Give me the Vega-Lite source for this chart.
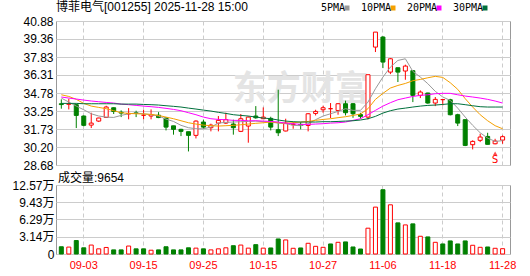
{
  "$schema": "https://vega.github.io/schema/vega-lite/v6.json",
  "background": "white",
  "padding": {"left": 11, "top": 0, "right": 5, "bottom": 3},
  "spacing": 20,
  "bounds": "flush",
  "config": {
    "font": "Liberation Sans, Noto Sans CJK SC",
    "view": {"stroke": "#999999", "strokeWidth": 1},
    "axis": {"labelFont": "Liberation Sans, Noto Sans CJK SC", "labelColor": "#000000", "labelFontSize": 12, "ticks": false, "domain": false, "gridColor": "#cccccc", "title": null, "labelOverlap": false}
  },
  "datasets": {
    "k": [
      {"d":"08-29","o":33.87,"h":34.24,"l":33.45,"c":33.80,"v":1.32,"5PMA":34.35,"10PMA":34.63,"20PMA":34.44,"30PMA":33.90},
      {"d":"09-01","o":33.82,"h":34.29,"l":33.39,"c":33.87,"v":1.26,"5PMA":34.01,"10PMA":34.49,"20PMA":34.35,"30PMA":33.90},
      {"d":"09-02","o":33.79,"h":33.87,"l":31.81,"c":32.88,"v":2.45,"5PMA":33.67,"10PMA":34.24,"20PMA":34.27,"30PMA":33.90},
      {"d":"09-03","o":32.83,"h":32.88,"l":31.95,"c":32.04,"v":1.13,"5PMA":33.36,"10PMA":33.90,"20PMA":34.18,"30PMA":33.87},
      {"d":"09-04","o":32.06,"h":33.11,"l":31.81,"c":32.23,"v":1.63,"5PMA":33.02,"10PMA":33.67,"20PMA":34.10,"30PMA":33.87},
      {"d":"09-05","o":32.40,"h":32.68,"l":32.32,"c":32.66,"v":0.94,"5PMA":32.83,"10PMA":33.56,"20PMA":34.04,"30PMA":33.87},
      {"d":"09-08","o":32.71,"h":33.70,"l":32.71,"c":33.59,"v":1.19,"5PMA":32.74,"10PMA":33.45,"20PMA":33.98,"30PMA":33.87},
      {"d":"09-09","o":33.53,"h":33.56,"l":33.00,"c":33.22,"v":0.75,"5PMA":32.71,"10PMA":33.28,"20PMA":33.93,"30PMA":33.87},
      {"d":"09-10","o":33.15,"h":33.31,"l":32.74,"c":33.08,"v":0.75,"5PMA":32.88,"10PMA":33.11,"20PMA":33.84,"30PMA":33.84},
      {"d":"09-11","o":33.00,"h":33.50,"l":32.55,"c":33.05,"v":1.45,"5PMA":33.02,"10PMA":33.05,"20PMA":33.79,"30PMA":33.84},
      {"d":"09-12","o":33.10,"h":33.28,"l":32.74,"c":33.05,"v":0.94,"5PMA":33.08,"10PMA":33.02,"20PMA":33.73,"30PMA":33.84},
      {"d":"09-15","o":32.90,"h":33.36,"l":32.55,"c":32.90,"v":0.94,"5PMA":33.02,"10PMA":33.00,"20PMA":33.67,"30PMA":33.81},
      {"d":"09-16","o":32.83,"h":33.39,"l":32.55,"c":32.95,"v":0.69,"5PMA":32.94,"10PMA":32.97,"20PMA":33.62,"30PMA":33.79},
      {"d":"09-17","o":32.90,"h":33.16,"l":32.65,"c":32.70,"v":0.75,"5PMA":32.83,"10PMA":32.88,"20PMA":33.56,"30PMA":33.76},
      {"d":"09-18","o":32.66,"h":32.71,"l":31.61,"c":31.89,"v":1.32,"5PMA":32.57,"10PMA":32.74,"20PMA":33.48,"30PMA":33.70},
      {"d":"09-19","o":32.00,"h":32.00,"l":31.25,"c":31.70,"v":0.75,"5PMA":32.37,"10PMA":32.60,"20PMA":33.39,"30PMA":33.65},
      {"d":"09-22","o":31.70,"h":31.75,"l":31.13,"c":31.53,"v":0.75,"5PMA":32.04,"10PMA":32.43,"20PMA":33.28,"30PMA":33.59},
      {"d":"09-23","o":31.50,"h":31.50,"l":29.83,"c":31.19,"v":1.13,"5PMA":31.84,"10PMA":32.26,"20PMA":33.11,"30PMA":33.50},
      {"d":"09-24","o":31.19,"h":32.46,"l":30.93,"c":32.40,"v":1.07,"5PMA":31.75,"10PMA":32.15,"20PMA":32.94,"30PMA":33.42},
      {"d":"09-25","o":32.32,"h":32.52,"l":31.75,"c":31.89,"v":0.94,"5PMA":31.75,"10PMA":32.06,"20PMA":32.74,"30PMA":33.33},
      {"d":"09-26","o":31.84,"h":32.18,"l":31.53,"c":32.06,"v":0.75,"5PMA":31.89,"10PMA":32.01,"20PMA":32.60,"30PMA":33.25},
      {"d":"09-29","o":32.23,"h":32.83,"l":31.53,"c":32.46,"v":0.94,"5PMA":32.23,"10PMA":31.98,"20PMA":32.54,"30PMA":33.14},
      {"d":"09-30","o":32.23,"h":33.11,"l":32.15,"c":32.52,"v":1.13,"5PMA":32.29,"10PMA":32.01,"20PMA":32.52,"30PMA":33.05},
      {"d":"10-09","o":32.15,"h":32.52,"l":31.25,"c":31.84,"v":1.51,"5PMA":32.32,"10PMA":32.04,"20PMA":32.46,"30PMA":32.94},
      {"d":"10-10","o":31.53,"h":33.00,"l":31.47,"c":32.60,"v":1.63,"5PMA":32.35,"10PMA":32.09,"20PMA":32.46,"30PMA":32.88},
      {"d":"10-13","o":31.98,"h":32.80,"l":30.57,"c":32.74,"v":1.07,"5PMA":32.37,"10PMA":32.15,"20PMA":32.43,"30PMA":32.83},
      {"d":"10-14","o":32.83,"h":33.67,"l":32.60,"c":32.68,"v":1.70,"5PMA":32.40,"10PMA":32.21,"20PMA":32.43,"30PMA":32.74},
      {"d":"10-15","o":32.60,"h":33.56,"l":32.60,"c":32.74,"v":1.07,"5PMA":32.35,"10PMA":32.26,"20PMA":32.40,"30PMA":32.66},
      {"d":"10-16","o":32.63,"h":32.77,"l":31.61,"c":31.89,"v":1.10,"5PMA":32.32,"10PMA":32.32,"20PMA":32.37,"30PMA":32.60},
      {"d":"10-17","o":31.67,"h":35.06,"l":31.13,"c":31.41,"v":2.74,"5PMA":32.23,"10PMA":32.26,"20PMA":32.32,"30PMA":32.49},
      {"d":"10-20","o":31.56,"h":32.60,"l":31.53,"c":32.23,"v":2.56,"5PMA":32.18,"10PMA":32.23,"20PMA":32.23,"30PMA":32.40},
      {"d":"10-21","o":32.10,"h":32.32,"l":31.75,"c":32.15,"v":1.04,"5PMA":32.04,"10PMA":32.26,"20PMA":32.18,"30PMA":32.35},
      {"d":"10-22","o":32.12,"h":32.32,"l":31.70,"c":32.03,"v":1.10,"5PMA":32.01,"10PMA":32.32,"20PMA":32.12,"30PMA":32.32},
      {"d":"10-23","o":32.03,"h":33.08,"l":31.53,"c":33.02,"v":1.95,"5PMA":32.18,"10PMA":32.37,"20PMA":32.12,"30PMA":32.32},
      {"d":"10-24","o":33.05,"h":33.36,"l":32.88,"c":33.22,"v":1.40,"5PMA":32.52,"10PMA":32.46,"20PMA":32.15,"30PMA":32.32},
      {"d":"10-27","o":33.36,"h":33.70,"l":33.11,"c":33.53,"v":1.22,"5PMA":32.83,"10PMA":32.54,"20PMA":32.18,"30PMA":32.35},
      {"d":"10-28","o":33.45,"h":33.93,"l":32.66,"c":33.45,"v":1.83,"5PMA":33.02,"10PMA":32.60,"20PMA":32.23,"30PMA":32.35},
      {"d":"10-29","o":33.30,"h":33.93,"l":32.94,"c":33.87,"v":2.13,"5PMA":33.22,"10PMA":32.69,"20PMA":32.26,"30PMA":32.37},
      {"d":"10-30","o":33.87,"h":34.13,"l":32.88,"c":33.11,"v":2.20,"5PMA":33.45,"10PMA":32.77,"20PMA":32.32,"30PMA":32.40},
      {"d":"10-31","o":33.87,"h":33.93,"l":32.68,"c":33.02,"v":1.28,"5PMA":33.31,"10PMA":32.88,"20PMA":32.46,"30PMA":32.43},
      {"d":"11-03","o":32.95,"h":33.10,"l":32.60,"c":32.80,"v":0.91,"5PMA":33.31,"10PMA":33.00,"20PMA":32.60,"30PMA":32.49},
      {"d":"11-04","o":32.74,"h":36.33,"l":32.54,"c":36.33,"v":4.70,"5PMA":34.01,"10PMA":33.45,"20PMA":32.94,"30PMA":32.60},
      {"d":"11-05","o":38.67,"h":39.94,"l":38.25,"c":39.94,"v":8.54,"5PMA":35.14,"10PMA":34.24,"20PMA":33.31,"30PMA":32.80},
      {"d":"11-06","o":39.52,"h":39.60,"l":36.89,"c":37.40,"v":11.71,"5PMA":36.13,"10PMA":34.75,"20PMA":33.67,"30PMA":33.08},
      {"d":"11-07","o":36.55,"h":37.74,"l":36.38,"c":37.68,"v":8.96,"5PMA":36.98,"10PMA":35.20,"20PMA":33.96,"30PMA":33.28},
      {"d":"11-10","o":36.92,"h":36.92,"l":35.71,"c":36.55,"v":5.67,"5PMA":37.54,"10PMA":35.42,"20PMA":34.21,"30PMA":33.42},
      {"d":"11-11","o":36.64,"h":37.18,"l":35.90,"c":37.06,"v":5.30,"5PMA":37.68,"10PMA":35.59,"20PMA":34.35,"30PMA":33.50},
      {"d":"11-12","o":36.67,"h":36.70,"l":34.01,"c":34.58,"v":5.49,"5PMA":36.61,"10PMA":35.82,"20PMA":34.49,"30PMA":33.59},
      {"d":"11-13","o":34.58,"h":35.00,"l":34.35,"c":34.86,"v":3.23,"5PMA":36.13,"10PMA":35.93,"20PMA":34.58,"30PMA":33.67},
      {"d":"11-14","o":34.78,"h":34.80,"l":33.87,"c":33.93,"v":3.11,"5PMA":35.57,"10PMA":36.07,"20PMA":34.63,"30PMA":33.73},
      {"d":"11-17","o":33.93,"h":34.44,"l":33.67,"c":34.24,"v":2.13,"5PMA":34.92,"10PMA":36.19,"20PMA":34.72,"30PMA":33.76},
      {"d":"11-18","o":34.22,"h":34.26,"l":33.73,"c":34.22,"v":1.83,"5PMA":34.44,"10PMA":36.10,"20PMA":34.75,"30PMA":33.81},
      {"d":"11-19","o":34.21,"h":34.29,"l":32.88,"c":32.94,"v":2.38,"5PMA":34.15,"10PMA":35.65,"20PMA":34.75,"30PMA":33.87},
      {"d":"11-20","o":32.94,"h":33.02,"l":31.98,"c":32.23,"v":1.83,"5PMA":33.50,"10PMA":35.09,"20PMA":34.63,"30PMA":33.87},
      {"d":"11-21","o":32.52,"h":32.52,"l":30.28,"c":30.34,"v":2.38,"5PMA":32.74,"10PMA":34.30,"20PMA":34.52,"30PMA":33.79},
      {"d":"11-24","o":30.40,"h":30.77,"l":30.00,"c":30.68,"v":1.59,"5PMA":32.04,"10PMA":33.59,"20PMA":34.44,"30PMA":33.70},
      {"d":"11-25","o":30.77,"h":31.33,"l":30.62,"c":31.05,"v":1.22,"5PMA":31.41,"10PMA":32.94,"20PMA":34.35,"30PMA":33.62},
      {"d":"11-26","o":31.10,"h":31.41,"l":30.43,"c":30.43,"v":1.28,"5PMA":30.96,"10PMA":32.43,"20PMA":34.24,"30PMA":33.59},
      {"d":"11-27","o":30.48,"h":30.90,"l":30.43,"c":30.71,"v":1.04,"5PMA":30.68,"10PMA":32.01,"20PMA":34.10,"30PMA":33.59},
      {"d":"11-28","o":30.79,"h":31.19,"l":30.48,"c":31.08,"v":0.9654,"5PMA":30.74,"10PMA":31.75,"20PMA":33.93,"30PMA":33.59}
    ]
  },
  "vconcat": [
    {
      "width": 454,
      "height": 144,
      "title": {"text": "博菲电气[001255] 2025-11-28 15:00", "anchor": "start", "frame": "group", "fontSize": 12, "fontWeight": "normal", "color": "#000000", "offset": 1, "font": "Liberation Sans, Noto Sans CJK SC"},
      "data": {"name": "k"},
      "encoding": {
        "x": {
          "field": "d", "type": "ordinal",
          "scale": {"domain": ["08-29","09-01","09-02","09-03","09-04","09-05","09-08","09-09","09-10","09-11","09-12","09-15","09-16","09-17","09-18","09-19","09-22","09-23","09-24","09-25","09-26","09-29","09-30","10-09","10-10","10-13","10-14","10-15","10-16","10-17","10-20","10-21","10-22","10-23","10-24","10-27","10-28","10-29","10-30","10-31","11-03","11-04","11-05","11-06","11-07","11-10","11-11","11-12","11-13","11-14","11-17","11-18","11-19","11-20","11-21","11-24","11-25","11-26","11-27","11-28"], "paddingInner": 0.33, "paddingOuter": 0.515, "align": 0.365},
          "axis": {"labels": false, "grid": true, "gridDash": [4, 3], "bandPosition": 0.5, "values": ["09-03","09-15","09-25","10-15","10-27","11-06","11-18","11-28"]}
        },
        "y": {"type": "quantitative", "scale": {"domain": [28.68, 40.88], "nice": false, "zero": false}, "axis": {"values": [28.68, 30.20, 31.73, 33.25, 34.78, 36.31, 37.83, 39.36, 40.88], "format": ".2f", "grid": true, "labelPadding": 3, "labelOverlap": false}}
      },
      "layer": [
        {
          "data": {"values": [{"d": "10-22", "p": 35.0, "t": "东方财富"}]},
          "mark": {"type": "text", "fontSize": 34, "fontWeight": "bold", "color": "#e4e4e4", "font": "Noto Sans CJK SC"},
          "encoding": {
            "y": {"field": "p", "type": "quantitative", "scale": {"domain": [28.68, 40.88], "nice": false, "zero": false}, "axis": {"values": [28.68, 30.20, 31.73, 33.25, 34.78, 36.31, 37.83, 39.36, 40.88], "format": ".2f", "grid": true, "labelPadding": 3, "labelOverlap": false}},
            "text": {"field": "t"}
          }
        },
        {
          "mark": {"type": "rule", "strokeWidth": 1},
          "encoding": {
            "y": {"field": "l", "type": "quantitative", "scale": {"domain": [28.68, 40.88], "nice": false, "zero": false}, "axis": {"values": [28.68, 30.20, 31.73, 33.25, 34.78, 36.31, 37.83, 39.36, 40.88], "format": ".2f", "grid": true, "labelPadding": 3, "labelOverlap": false}},
            "y2": {"field": "h"},
            "color": {"condition": {"test": "datum.c >= datum.o", "value": "#ff0000"}, "value": "#008000"}
          }
        },
        {
          "mark": {"type": "bar", "width": {"band": 0.8}, "strokeWidth": 1},
          "encoding": {
            "y": {"field": "o", "type": "quantitative"},
            "y2": {"field": "c"},
            "fill": {"condition": {"test": "datum.c >= datum.o", "value": "#ffffff"}, "value": "#008000"},
            "stroke": {"condition": {"test": "datum.c >= datum.o", "value": "#ff0000"}, "value": "#008000"}
          }
        },
        {
          "transform": [{"fold": ["5PMA", "10PMA", "20PMA", "30PMA"], "as": ["ma", "val"]}],
          "mark": {"type": "line", "strokeWidth": 1},
          "encoding": {
            "y": {"field": "val", "type": "quantitative"},
            "color": {
              "field": "ma", "type": "nominal",
              "scale": {"domain": ["5PMA", "10PMA", "20PMA", "30PMA"], "range": ["#999999", "#f5a000", "#ff00ff", "#00703c"]},
              "legend": {
                "orient": "none", "legendX": 286, "legendY": -18, "padding": 0, "direction": "horizontal", "title": null,
                "symbolType": "square", "symbolSize": 25, "symbolStrokeWidth": 0,
                "labelFont": "DejaVu Sans Mono", "labelFontSize": 10, "labelColor": "#000000",
                "labelAlign": "right", "labelOffset": -7, "columnPadding": 10,
                "encode": {"symbols": {"update": {"fill": {"signal": "datum.value == '5PMA' ? '#999999' : datum.value == '10PMA' ? '#f5a000' : datum.value == '20PMA' ? '#ff00ff' : '#00703c'"}, "strokeWidth": {"value": 0}}}}
              }
            }
          }
        },
        {
          "data": {"values": [{"d": "11-27", "tri": 29.66, "s": 29.10}]},
          "mark": {"type": "point", "shape": "triangle-up", "filled": true, "size": 22, "color": "#ff0000"},
          "encoding": {"y": {"field": "tri", "type": "quantitative"}}
        },
        {
          "data": {"values": [{"d": "11-27", "tri": 29.66, "s": 29.10, "t": "S"}]},
          "mark": {"type": "text", "fontSize": 11, "color": "#ff0000", "font": "DejaVu Sans Mono"},
          "encoding": {"y": {"field": "s", "type": "quantitative"}, "text": {"field": "t"}}
        }
      ]
    },
    {
      "width": 454,
      "height": 69,
      "title": {"text": "成交量:9654", "anchor": "start", "frame": "group", "fontSize": 12, "fontWeight": "normal", "color": "#000000", "offset": -6, "dx": 2, "font": "Liberation Sans, Noto Sans CJK SC"},
      "data": {"name": "k"},
      "mark": {"type": "bar", "width": {"band": 0.8}, "strokeWidth": 1},
      "encoding": {
        "x": {
          "field": "d", "type": "ordinal",
          "scale": {"domain": ["08-29","09-01","09-02","09-03","09-04","09-05","09-08","09-09","09-10","09-11","09-12","09-15","09-16","09-17","09-18","09-19","09-22","09-23","09-24","09-25","09-26","09-29","09-30","10-09","10-10","10-13","10-14","10-15","10-16","10-17","10-20","10-21","10-22","10-23","10-24","10-27","10-28","10-29","10-30","10-31","11-03","11-04","11-05","11-06","11-07","11-10","11-11","11-12","11-13","11-14","11-17","11-18","11-19","11-20","11-21","11-24","11-25","11-26","11-27","11-28"], "paddingInner": 0.33, "paddingOuter": 0.515, "align": 0.365},
          "axis": {"labelAngle": 0, "labelColor": "#ff0000", "labelFontSize": 11, "labelPadding": 5, "grid": true, "gridDash": [4, 3], "bandPosition": 0.5, "values": ["09-03","09-15","09-25","10-15","10-27","11-06","11-18","11-28"]}
        },
        "y": {"field": "v", "type": "quantitative", "scale": {"domain": [0, 12.57], "nice": false}, "axis": {"values": [0, 3.14, 6.29, 9.43, 12.57], "grid": true, "labelPadding": 2, "labelOverlap": false, "labelExpr": "datum.value == 0 ? '0' : format(datum.value, '.2f') + '万'"}},
        "fill": {"condition": {"test": "datum.c > datum.o", "value": "#ffffff"}, "value": "#008000"},
        "stroke": {"condition": {"test": "datum.c > datum.o", "value": "#ff0000"}, "value": "#008000"}
      }
    }
  ]
}
